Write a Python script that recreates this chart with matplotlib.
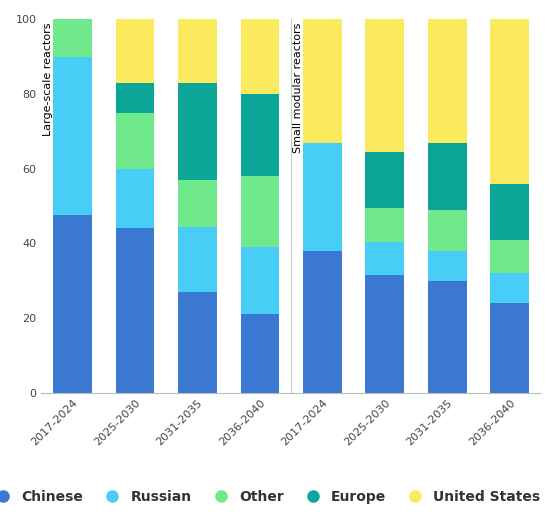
import matplotlib.pyplot as plt
import numpy as np

categories = ["2017-2024", "2025-2030", "2031-2035", "2036-2040",
              "2017-2024", "2025-2030", "2031-2035", "2036-2040"]
chinese = [47.5, 44, 27, 21, 38, 31.5, 30, 24]
russian = [42.5, 16, 17.5, 18, 29, 9, 8, 8]
other = [10, 15, 12.5, 19, 0, 9, 11, 9]
europe = [0, 8, 26, 22, 0, 15, 18, 15]
us = [0, 17, 17, 20, 33, 35.5, 33, 44]

series = [("Chinese", chinese, "#3b78d1"), ("Russian", russian, "#47cdf6"),
          ("Other", other, "#70e88c"), ("Europe", europe, "#0ba698"),
          ("United States", us, "#fbea5e")]

fig = plt.figure(figsize=(5.52, 5.19), dpi=100)
ax = fig.add_axes([0.075, 0.243, 0.905, 0.72])
x = np.arange(len(categories))
bottom = np.zeros(len(categories))
handles = []
for name, vals, col in series:
    ax.bar(x, vals, bottom=bottom, width=0.62, color=col, zorder=2)
    bottom += np.array(vals)
    handles.append(plt.Line2D([], [], marker="o", ls="", color=col,
                              markersize=8, label=name))

ax.set_xlim(-0.5, 7.5)
ax.set_ylim(0, 100)
ax.set_yticks(range(0, 101, 20))
ax.set_xticks(x)
ax.set_xticklabels(categories, rotation=45, ha="right", rotation_mode="anchor")
ax.tick_params(length=0, labelsize=8, colors="#444444")
for s in ["top", "right", "left"]:
    ax.spines[s].set_visible(False)
ax.spines["bottom"].set_color("#bbbbbb")
ax.axvline(3.5, color="#cccccc", lw=0.8, zorder=3)
ax.text(-0.47, 99, "Large-scale reactors", rotation=90, ha="left", va="top",
        fontsize=8, zorder=4)
ax.text(3.53, 99, "Small modular reactors", rotation=90, ha="left", va="top",
        fontsize=8, zorder=4)

fig.legend(handles=handles, loc="lower center", ncol=5, frameon=False,
           bbox_to_anchor=(0.48, 0.005), prop={"size": 10, "weight": "bold"},
           handletextpad=0.3, columnspacing=1.1, labelcolor="#333333")
fig.savefig("out.png", dpi=100)
